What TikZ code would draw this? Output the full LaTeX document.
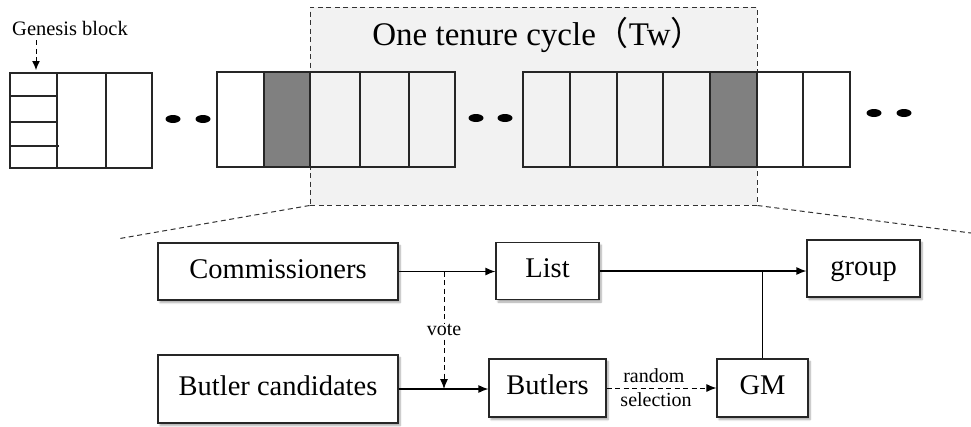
\documentclass[tikz,border=0pt]{standalone}
\usepackage{fontspec}
\setmainfont{Liberation Serif}
\newfontfamily\cjk{Noto Sans CJK SC}
\usetikzlibrary{arrows.meta,shadows.blur}

\begin{document}
\begin{tikzpicture}[x=1pt,y=-1pt,
  cellline/.style={draw=black!85, line width=1.1pt},
  dk/.style={fill=black!50},
  box/.style={draw=black!85, line width=1.2pt, fill=white, inner sep=0pt,
    font=\fontsize{28.5}{32}\selectfont, text height=19.5pt, text depth=6pt,
    blur shadow={shadow xshift=2pt, shadow yshift=-2.5pt, shadow blur steps=6, shadow opacity=35}},
  lbl/.style={font=\fontsize{20}{22}\selectfont, inner sep=1pt},
  arr/.style={line width=1.2pt, -{Latex[length=10pt,width=8pt]}},
  dsh/.style={line width=1pt, dash pattern=on 5pt off 3.5pt},
  dotmark/.style={fill=black}
]
\useasboundingbox (0,0) rectangle (971,426);

% tenure-cycle window
\node[dsh, draw=black!80, fill=black!5, minimum width=447pt, minimum height=198pt,
      inner sep=0pt] (cycle) at (533.5,106) {};
\node[font=\fontsize{33}{36}\selectfont] (title) at (538,35)
  {One tenure cycle{\cjk （}Tw{\cjk ）}};

% genesis block
\node[font=\fontsize{20.5}{22}\selectfont, inner sep=1pt] (glabel) at (70,28) {Genesis block};
\coordinate (gtip) at (36,70);
\draw[dsh, -{Latex[length=9pt,width=8pt]}] (glabel.south -| gtip) ++(0,4) -- (gtip);
\filldraw[cellline, fill=white] (10,73) rectangle (152,168);
\draw[cellline] (57,73) -- (57,168) (106,73) -- (106,168);
\draw[cellline] (10,96) -- (57,96) (10,122) -- (57,122) (10,146) -- (59,146);

% chain before and inside the window
\filldraw[cellline, fill=white] (217,72) rectangle (264,167);
\filldraw[cellline, dk] (264,72) rectangle (310,167);
\foreach \a/\b in {310/360,360/409,409/455,523/570,570/617,617/663,663/710}
  \draw[cellline] (\a,72) rectangle (\b,167);
\filldraw[cellline, dk] (710,72) rectangle (757,167);
\filldraw[cellline, fill=white] (757,72) rectangle (803,167);
\filldraw[cellline, fill=white] (803,72) rectangle (850,167);

% ellipsis dots
\foreach \x/\y in {173/119,203/119,476/118,505/118,874/113,904/113}
  \fill[dotmark] (\x,\y) ellipse [x radius=7.5pt, y radius=4pt];

% zoom lines
\coordinate (zl) at (117,239);
\coordinate (zr) at (971,233);
\draw[dsh, draw=black!80] (cycle.south west) -- (zl);
\draw[dsh, draw=black!80] (cycle.south east) -- (zr);

% election flow
\node[box, minimum width=240pt, minimum height=57pt] (comm) at (278,271.5) {Commissioners};
\node[box, minimum width=240pt, minimum height=68pt] (cand) at (278,389) {Butler candidates};
\node[box, minimum width=103pt, minimum height=57pt] (list) at (547.5,271) {List};
\node[box, minimum width=117pt, minimum height=58pt] (butlers) at (547.5,388) {Butlers};
\node[box, minimum width=91pt, minimum height=58pt] (gm) at (762.5,388) {GM};
\node[box, minimum width=113pt, minimum height=57pt] (group) at (863.5,268.5) {group};

\draw[arr] (comm.east) -- (comm.east -| list.west);
\draw[arr] (cand.east) -- (cand.east -| butlers.west);
\draw[arr] (list.east) -- (list.east -| group.west);
\draw[line width=1.2pt] (gm.north) -- (gm.north |- list.east);

\coordinate (vx) at (444,0);
\draw[dsh, -{Latex[length=10pt,width=8pt]}] (comm.east -| vx) -- (cand.east -| vx)
  node[lbl, fill=white, pos=0.5] (vote) {vote};

\draw[dsh, -{Latex[length=10pt,width=8pt]}] (butlers.east) -- (butlers.east -| gm.west)
  node[lbl, pos=0.43, above=4pt] (rnd) {random}
  node[lbl, pos=0.45, below=3pt] (sel) {selection};
\end{tikzpicture}
\end{document}
